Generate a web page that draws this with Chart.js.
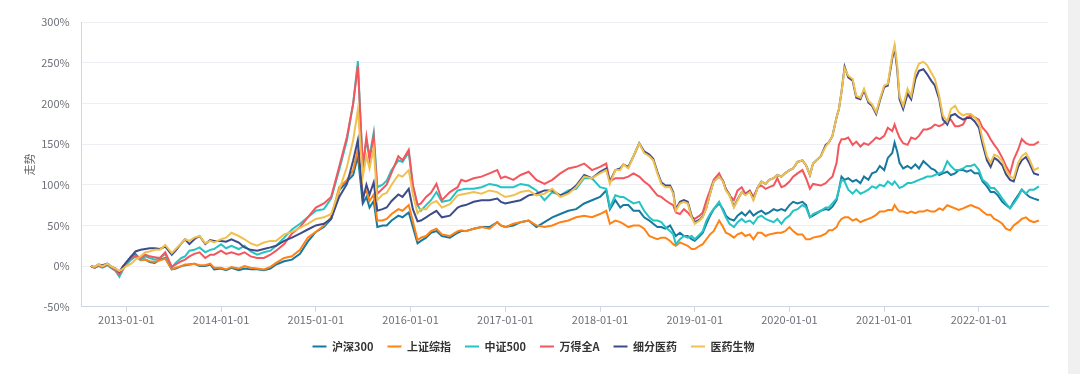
<!DOCTYPE html>
<html>
<head>
<meta charset="utf-8">
<script src="https://cdn.jsdelivr.net/npm/chart.js@4"></script>
<style>
  html, body { margin: 0; padding: 0; background: #f0f0f0; }
  #wrap { position: absolute; left: 0; top: 0; width: 1068px; height: 374px; background: #fff; }
  canvas { display: block; }
</style>
</head>
<body>
<div id="wrap"><canvas id="mainChart" width="1068" height="374"></canvas></div>
<script>
var names = ['沪深300', '上证综指', '中证500', '万得全A', '细分医药', '医药生物'];
var colors = ['#16799f', '#ff8214', '#25c3c3', '#f3575d', '#3e4b89', '#f0c150'];

var dates = [
  '2012-08-17','2012-09-01','2012-09-15','2012-10-01','2012-10-20','2012-11-01','2012-11-20','2012-12-05','2012-12-20','2013-01-01',
  '2013-01-20','2013-02-05','2013-02-25','2013-03-15','2013-04-01','2013-04-20','2013-05-10','2013-05-31','2013-06-25','2013-07-10',
  '2013-08-01','2013-08-15','2013-09-01','2013-09-20','2013-10-10','2013-11-01','2013-11-20','2013-12-05','2014-01-01','2014-01-20',
  '2014-02-10','2014-03-10','2014-04-01','2014-04-25','2014-05-20','2014-06-15','2014-07-10','2014-08-01','2014-09-01','2014-10-01',
  '2014-11-01','2014-12-01','2015-01-01','2015-02-01','2015-03-01','2015-04-01','2015-05-01','2015-05-25','2015-06-12','2015-07-01',
  '2015-07-15','2015-07-27','2015-08-12','2015-08-26','2015-09-15','2015-10-01','2015-10-20','2015-11-15','2015-12-01','2015-12-25',
  '2016-01-10','2016-01-28','2016-02-10','2016-03-01','2016-03-20','2016-04-10','2016-05-01','2016-06-01','2016-07-01','2016-07-15',
  '2016-08-01','2016-09-01','2016-10-01','2016-11-01','2016-12-01','2016-12-15','2017-01-01','2017-02-01','2017-03-01','2017-04-01',
  '2017-05-01','2017-06-01','2017-07-01','2017-08-01','2017-09-01','2017-10-01','2017-11-01','2017-12-01','2018-01-01','2018-01-25',
  '2018-02-08','2018-03-01','2018-03-20','2018-04-01','2018-04-20','2018-05-10','2018-06-01','2018-06-20','2018-07-10','2018-07-25',
  '2018-08-10','2018-08-25','2018-09-10','2018-09-28','2018-10-10','2018-10-20','2018-11-05','2018-11-20','2018-12-05','2018-12-20',
  '2019-01-01','2019-01-20','2019-02-01','2019-02-15','2019-03-01','2019-03-15','2019-04-05','2019-04-20','2019-05-01','2019-05-15',
  '2019-06-01','2019-06-15','2019-07-01','2019-07-15','2019-08-01','2019-08-15','2019-09-01','2019-09-15','2019-10-01','2019-10-15',
  '2019-11-01','2019-11-15','2019-12-01','2019-12-15','2020-01-01','2020-01-15','2020-02-01','2020-02-20','2020-03-05','2020-03-20',
  '2020-04-01','2020-05-01','2020-05-20','2020-06-01','2020-06-15','2020-07-01','2020-07-10','2020-07-20','2020-08-01','2020-08-15',
  '2020-09-01','2020-09-15','2020-10-01','2020-10-15','2020-11-01','2020-11-15','2020-12-01','2020-12-15','2021-01-01','2021-01-15',
  '2021-02-01','2021-02-10','2021-02-20','2021-03-01','2021-03-15','2021-04-01','2021-04-15','2021-05-01','2021-05-15','2021-06-01',
  '2021-06-15','2021-07-01','2021-07-15','2021-08-01','2021-08-15','2021-09-01','2021-09-15','2021-10-01','2021-10-15','2021-11-01',
  '2021-11-15','2021-12-01','2021-12-15','2022-01-01','2022-01-15','2022-02-01','2022-02-15','2022-03-01','2022-03-15','2022-04-01',
  '2022-04-15','2022-05-01','2022-05-15','2022-06-01','2022-06-15','2022-07-01','2022-07-15','2022-08-01','2022-08-20'
];

// 沪深300
var hs300 = [
  0,-2,1,-1,2,-1,-4,-8,0,4,
  12,15,8,8,5,4,8,10,-4,-3,
  0,1,2,3,0,0,2,-4,-3,-5,
  -2,-5,-3,-4,-4,-5,-3,2,6,8,
  15,30,42,48,58,93,104,112,135,77,
  85,72,80,48,50,50,56,62,60,66,
  48,28,31,35,41,43,37,35,41,43,
  43,46,48,48,54,50,48,50,54,56,
  48,54,60,64,68,70,77,81,85,93,
  70,81,72,75,75,68,68,60,56,52,
  48,48,46,50,43,37,41,37,37,33,
  31,37,41,52,62,70,77,70,62,58,
  56,62,66,62,68,62,66,68,64,66,
  70,68,70,68,75,79,77,79,75,60,
  62,68,70,69,73,81,94,110,106,108,
  104,106,102,110,106,114,116,123,118,133,
  139,152,141,127,120,123,120,125,120,129,
  125,120,118,112,114,116,112,114,118,118,
  116,118,114,114,104,98,91,91,87,79,
  75,71,79,87,94,89,85,83,81
];

// 上证综指
var szzz = [
  0,-2,1,-1,2,-1,-4,-8,0,4,
  10,13,7,8,6,5,7,9,-4,-2,
  0,2,2,3,1,1,3,-2,-2,-4,
  -1,-3,0,-2,-3,-4,-1,4,10,12,
  20,35,42,50,60,97,106,118,143,89,
  92,80,88,56,56,58,64,70,68,75,
  55,32,35,37,43,46,39,37,43,44,
  43,46,48,46,54,50,48,52,54,56,
  50,48,50,54,56,60,62,60,64,68,
  52,56,54,52,48,50,50,46,37,35,
  33,35,35,31,27,25,29,27,25,21,
  21,25,27,33,39,43,56,48,41,39,
  35,39,41,37,39,33,41,41,37,39,
  40,41,41,43,48,43,39,39,33,33,
  35,37,40,44,44,48,54,58,60,60,
  56,58,54,56,58,60,63,67,67,69,
  69,75,70,67,67,65,67,65,67,67,
  69,67,67,71,69,75,73,71,69,71,
  73,75,73,71,67,63,63,58,56,52,
  46,44,50,54,58,60,56,54,56
];

// 中证500
var zz500 = [
  0,-2,0,-2,1,-2,-6,-13,-4,2,
  8,12,8,12,10,8,10,15,-2,4,
  10,12,19,20,23,17,20,21,27,22,
  25,21,25,18,14,17,19,25,35,45,
  52,60,68,70,83,118,155,200,252,120,
  155,135,164,97,100,105,118,130,128,140,
  98,75,68,75,81,91,79,81,93,94,
  95,95,97,101,99,97,97,97,101,99,
  93,81,91,87,93,95,108,108,97,95,
  72,87,85,85,81,77,79,68,60,56,
  56,54,48,43,39,27,33,37,35,37,
  33,39,43,56,64,70,79,68,60,52,
  48,54,58,54,56,52,60,62,58,56,
  54,58,52,58,62,68,70,75,72,60,
  64,68,72,72,77,83,94,106,104,94,
  89,94,89,91,94,98,96,100,98,104,
  100,104,100,96,98,102,102,104,106,108,
  110,110,112,114,116,129,123,118,118,120,
  123,123,125,118,106,102,96,96,91,83,
  77,71,77,85,94,89,94,94,98
];

// 万得全A
var windA = [
  0,-2,1,-1,2,-1,-5,-10,-2,4,
  10,13,10,14,12,11,10,17,-1,2,
  6,8,12,15,17,10,14,14,19,15,
  17,14,17,12,10,10,14,19,27,40,
  48,60,72,77,85,122,159,200,246,122,
  159,130,160,89,95,100,115,135,130,143,
  100,75,77,85,90,101,81,91,97,106,
  104,108,110,114,118,108,110,106,112,116,
  106,101,106,114,120,122,126,118,122,126,
  104,108,108,108,110,114,110,104,99,93,
  87,85,81,77,75,66,64,70,66,60,
  58,62,66,81,93,106,114,104,95,87,
  81,93,97,89,93,85,97,99,95,97,
  99,108,97,99,104,110,114,118,108,95,
  101,99,102,106,110,127,149,156,156,158,
  149,153,147,151,149,153,158,156,160,170,
  166,174,165,158,151,149,158,156,160,168,
  168,170,174,172,174,180,180,172,172,174,
  183,185,183,180,170,164,156,149,143,133,
  123,114,131,143,156,151,149,149,153
];

// 细分医药
var xfyy = [
  0,-1,2,1,3,0,-3,-7,0,5,
  12,18,20,21,22,22,21,24,14,19,
  28,33,27,33,37,27,32,31,31,30,
  33,29,23,20,19,21,23,25,31,35,
  40,45,50,52,58,85,101,130,155,81,
  100,88,103,68,70,72,80,88,85,95,
  70,55,56,60,64,68,60,62,72,74,
  75,79,81,81,83,79,77,79,81,87,
  89,93,93,87,91,99,112,108,116,120,
  104,118,120,125,122,135,151,141,137,132,
  116,103,99,99,91,70,79,81,79,62,
  54,57,61,72,89,104,110,105,94,88,
  73,82,91,88,92,82,97,104,101,106,
  108,112,110,114,118,120,128,130,124,112,
  126,135,149,152,160,183,193,214,245,232,
  228,207,205,216,201,197,187,203,220,222,
  255,268,242,205,193,212,205,230,240,242,
  236,228,222,205,180,174,185,187,183,180,
  182,182,178,170,150,130,122,133,130,124,
  113,106,104,122,130,134,126,114,112
];

// 医药生物
var yysw = [
  0,-1,2,0,3,0,-3,-6,-3,0,
  3,8,12,17,18,20,20,26,16,21,
  28,33,31,35,37,28,31,29,33,35,
  41,37,33,28,25,29,31,31,39,42,
  47,52,58,60,64,93,122,155,192,110,
  135,120,145,81,88,90,100,112,110,118,
  88,65,70,70,77,80,72,76,87,88,
  89,91,89,93,91,88,85,87,91,93,
  87,89,95,85,89,97,110,108,114,118,
  101,118,118,125,120,135,151,139,135,130,
  114,101,97,97,89,68,77,79,77,60,
  52,56,60,72,89,104,110,104,93,87,
  72,81,91,87,91,81,97,104,101,106,
  108,112,110,114,118,120,128,130,124,112,
  126,135,147,152,160,183,193,214,243,234,
  230,209,207,218,203,199,189,205,222,224,
  259,272,247,209,197,218,209,238,249,251,
  247,238,230,209,185,178,193,197,189,185,
  187,187,183,176,156,135,127,137,135,129,
  118,110,108,127,135,139,131,118,121
];

var yTicks = [-50, 0, 50, 100, 150, 200, 250, 300];

function yearFrac(s) {
  var p = s.split('-').map(Number);
  var t0 = Date.UTC(p[0], 0, 1), t1 = Date.UTC(p[0] + 1, 0, 1);
  return p[0] + (Date.UTC(p[0], p[1] - 1, p[2]) - t0) / (t1 - t0);
}

var series = [hs300, szzz, zz500, windA, xfyy, yysw];
var datasets = series.map(function (vals, k) {
  return {
    label: names[k],
    data: dates.map(function (d, i) { return { x: yearFrac(d), y: vals[i] }; }),
    borderColor: colors[k],
    backgroundColor: colors[k],
    borderWidth: 2,
    pointRadius: 0,
    tension: 0,
    order: series.length - k
  };
});

var font = '"Noto Sans CJK SC", "Noto Sans", sans-serif';
var axisColor = '#ccd6e6';

new Chart(document.getElementById('mainChart').getContext('2d'), {
  type: 'line',
  data: { datasets: datasets },
  options: {
    responsive: false,
    animation: false,
    layout: { padding: { left: 19, right: 20, top: 22, bottom: 12 } },
    plugins: {
      tooltip: { enabled: false },
      legend: {
        position: 'bottom',
        labels: {
          boxWidth: 14,
          boxHeight: 2,
          padding: 14,
          color: '#333',
          font: { family: font, size: 11, weight: 'bold' },
          sort: function (a, b) { return a.datasetIndex - b.datasetIndex; },
          generateLabels: function (chart) {
            var items = Chart.defaults.plugins.legend.labels.generateLabels(chart);
            items.forEach(function (it) { it.lineWidth = 0; });
            return items;
          }
        }
      }
    },
    scales: {
      x: {
        type: 'linear',
        min: 2012.528,
        max: 2022.729,
        border: { color: axisColor },
        grid: { drawOnChartArea: false, drawTicks: true, tickLength: 5, color: axisColor },
        ticks: {
          stepSize: 1,
          includeBounds: false,
          autoSkip: false,
          maxRotation: 0,
          padding: 1,
          color: '#6e7079',
          font: { family: font, size: 11 },
          callback: function (v) { return Number.isInteger(v) ? v + '-01-01' : ''; }
        }
      },
      y: {
        min: yTicks[0],
        max: yTicks[yTicks.length - 1],
        border: { color: axisColor },
        grid: { color: '#eceff3', drawTicks: false },
        title: { display: true, text: '走势', color: '#666', font: { family: font, size: 11 }, padding: { top: 4, bottom: -7 } },
        ticks: {
          stepSize: 50,
          padding: 12,
          color: '#6e7079',
          font: { family: font, size: 11 },
          callback: function (v) { return v + '%'; }
        }
      }
    }
  }
});
</script>
</body>
</html>
